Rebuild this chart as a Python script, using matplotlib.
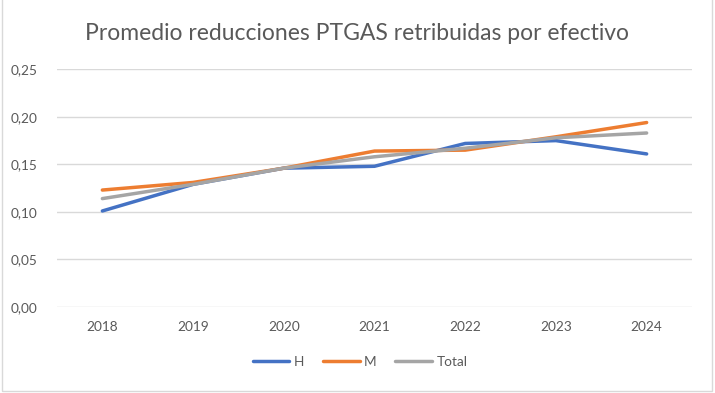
import matplotlib
matplotlib.use("Agg")
import matplotlib.pyplot as plt
from matplotlib.patches import Rectangle
from matplotlib.ticker import FuncFormatter

years = ["2018", "2019", "2020", "2021", "2022", "2023", "2024"]
h_vals = [0.101, 0.129, 0.146, 0.148, 0.172, 0.175, 0.161]
m_vals = [0.123, 0.131, 0.146, 0.164, 0.165, 0.179, 0.194]
total_vals = [0.114, 0.129, 0.146, 0.158, 0.167, 0.178, 0.183]
series_names = ["H", "M", "Total"]
colors = ["#4472C4", "#ED7D31", "#A5A5A5"]
yticks = [0.0, 0.05, 0.10, 0.15, 0.20, 0.25]
title = "Promedio reducciones PTGAS retribuidas por efectivo"

plt.rcParams['font.family'] = ['Lato', 'DejaVu Sans']
W, H = 715, 393
fig = plt.figure(figsize=(W / 100, H / 100), dpi=100)
fig.patch.set_facecolor("white")

# chart border
fig.patches.append(Rectangle((2 / W, 2 / H), 710 / W, 420 / H, transform=fig.transFigure,
                             fill=False, edgecolor="#D9D9D9", linewidth=1))

ax = fig.add_axes([57 / W, 1 - 307 / H, (692 - 57) / W, (307 - 69.3) / H])
x = list(range(len(years)))
for vals, name, c in zip([h_vals, m_vals, total_vals], series_names, colors):
    ax.plot(x, vals, color=c, lw=2.5, label=name, solid_capstyle="round", zorder=3)

ax.set_xlim(-0.5, len(years) - 0.5)
ax.set_ylim(0, 0.25)
ax.set_yticks(yticks)
ax.yaxis.set_major_formatter(FuncFormatter(lambda v, p: f"{v:.2f}".replace(".", ",")))
ax.set_xticks(x)
ax.set_xticklabels(years)
ax.grid(axis="y", color="#D9D9D9", lw=1)
ax.set_axisbelow(True)
for s in ax.spines.values():
    s.set_visible(False)
ax.tick_params(axis="both", length=0, labelsize=9.8, colors="#595959")
ax.tick_params(axis="y", pad=14)
ax.tick_params(axis="x", pad=10)

fig.text(357 / W, 1 - 33 / H, title, ha="center", va="center", fontsize=16.5, color="#595959")

fig.legend(loc="center", bbox_to_anchor=(360 / W, 1 - 362 / H), ncol=3, frameon=False,
           fontsize=9.8, labelcolor="#595959", handlelength=2.7, handletextpad=0.3,
           columnspacing=1.4)

fig.savefig("out.png", dpi=100)
